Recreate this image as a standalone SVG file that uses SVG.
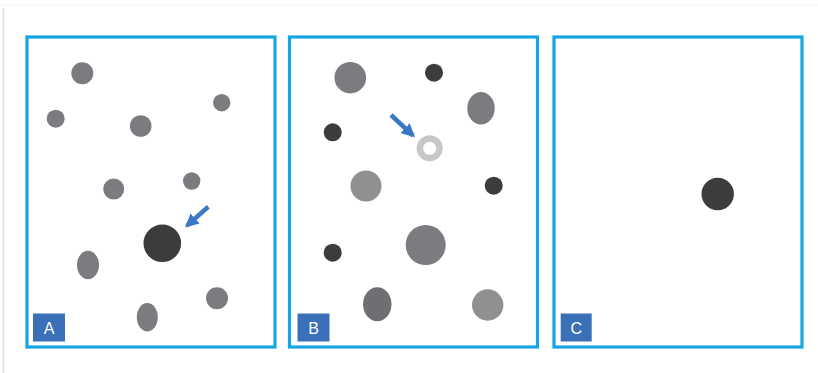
<svg xmlns="http://www.w3.org/2000/svg" width="818" height="373" viewBox="0 0 818 373">
<style>
.frame{fill:none;stroke:#16a6e3;stroke-width:3.2}
.g{fill:#7b7c80}
.lg{fill:#8f9092}
.dg{fill:#6e6f73}
.dk{fill:#3c3c3e}
.lbl{fill:#3a70b8}
.lt{fill:#ffffff;font-family:"Liberation Sans",Arial,sans-serif;font-size:16px;text-anchor:middle}
.arr{stroke:#3a78c4;stroke-width:4.5;fill:none}
</style>
<defs>
<marker id="ah" viewBox="0 0 10 10" refX="8" refY="5" markerWidth="3" markerHeight="3" orient="auto" markerUnits="strokeWidth">
<path d="M0,0 L10,5 L0,10 z" fill="#3a78c4"/>
</marker>
</defs>
<rect width="818" height="373" fill="#ffffff"/>
<line x1="0" y1="5" x2="818" y2="5" stroke="#f4f4f4" stroke-width="1.5"/>
<line x1="3.5" y1="8" x2="3.5" y2="373" stroke="#dcdcdc" stroke-width="1.5"/>

<g id="panelA">
<rect class="frame" x="27" y="37" width="248" height="310"/>
<circle class="g" cx="82.3" cy="73.3" r="11"/>
<circle class="g" cx="55.7" cy="118.7" r="9"/>
<circle class="g" cx="221.7" cy="102.7" r="8.7"/>
<circle class="g" cx="140.7" cy="126" r="10.8"/>
<circle class="g" cx="113.7" cy="189" r="10.5"/>
<circle class="g" cx="191.7" cy="181" r="8.7"/>
<circle class="dk" cx="162.3" cy="243.3" r="18.8"/>
<ellipse class="g" cx="88" cy="265" rx="11" ry="14.3"/>
<circle class="g" cx="217" cy="298.3" r="11"/>
<ellipse class="g" cx="147.3" cy="317.3" rx="10.5" ry="14.2"/>
<rect class="lbl" x="33" y="313.5" width="32" height="28"/>
<text class="lt" x="49" y="333.5">A</text>
</g>

<g id="panelB">
<rect class="frame" x="289.5" y="37" width="248" height="310"/>
<circle class="g" cx="350.3" cy="77.7" r="15.8"/>
<circle class="dk" cx="434" cy="72.7" r="9"/>
<ellipse class="g" cx="481" cy="108.3" rx="13.7" ry="16.3"/>
<circle class="dk" cx="332.7" cy="132.3" r="9"/>
<circle cx="429.7" cy="148.3" r="9.8" fill="none" stroke="#c6c7c9" stroke-width="6.5"/>
<circle class="lg" cx="366" cy="186" r="15.5"/>
<circle class="dk" cx="493.7" cy="185.7" r="9"/>
<circle class="dk" cx="332.7" cy="252.7" r="9"/>
<circle class="g" cx="425.7" cy="245" r="20"/>
<ellipse class="dg" cx="377.3" cy="304.3" rx="14.2" ry="17"/>
<circle class="lg" cx="487.7" cy="305" r="15.7"/>
<rect class="lbl" x="297.5" y="313.5" width="32" height="28"/>
<text class="lt" x="313.5" y="333.5">B</text>
</g>

<g id="panelC">
<rect class="frame" x="554" y="37" width="248" height="310"/>
<circle class="dk" cx="717.7" cy="194" r="16.2"/>
<rect class="lbl" x="560.7" y="313.5" width="31" height="28"/>
<text class="lt" x="576.2" y="333.5">C</text>
</g>

<g id="connectors">
<line class="arr" x1="208.3" y1="206.7" x2="187" y2="225.6" marker-end="url(#ah)"/>
<line class="arr" x1="391" y1="115" x2="413" y2="135.5" marker-end="url(#ah)"/>
</g>
</svg>
